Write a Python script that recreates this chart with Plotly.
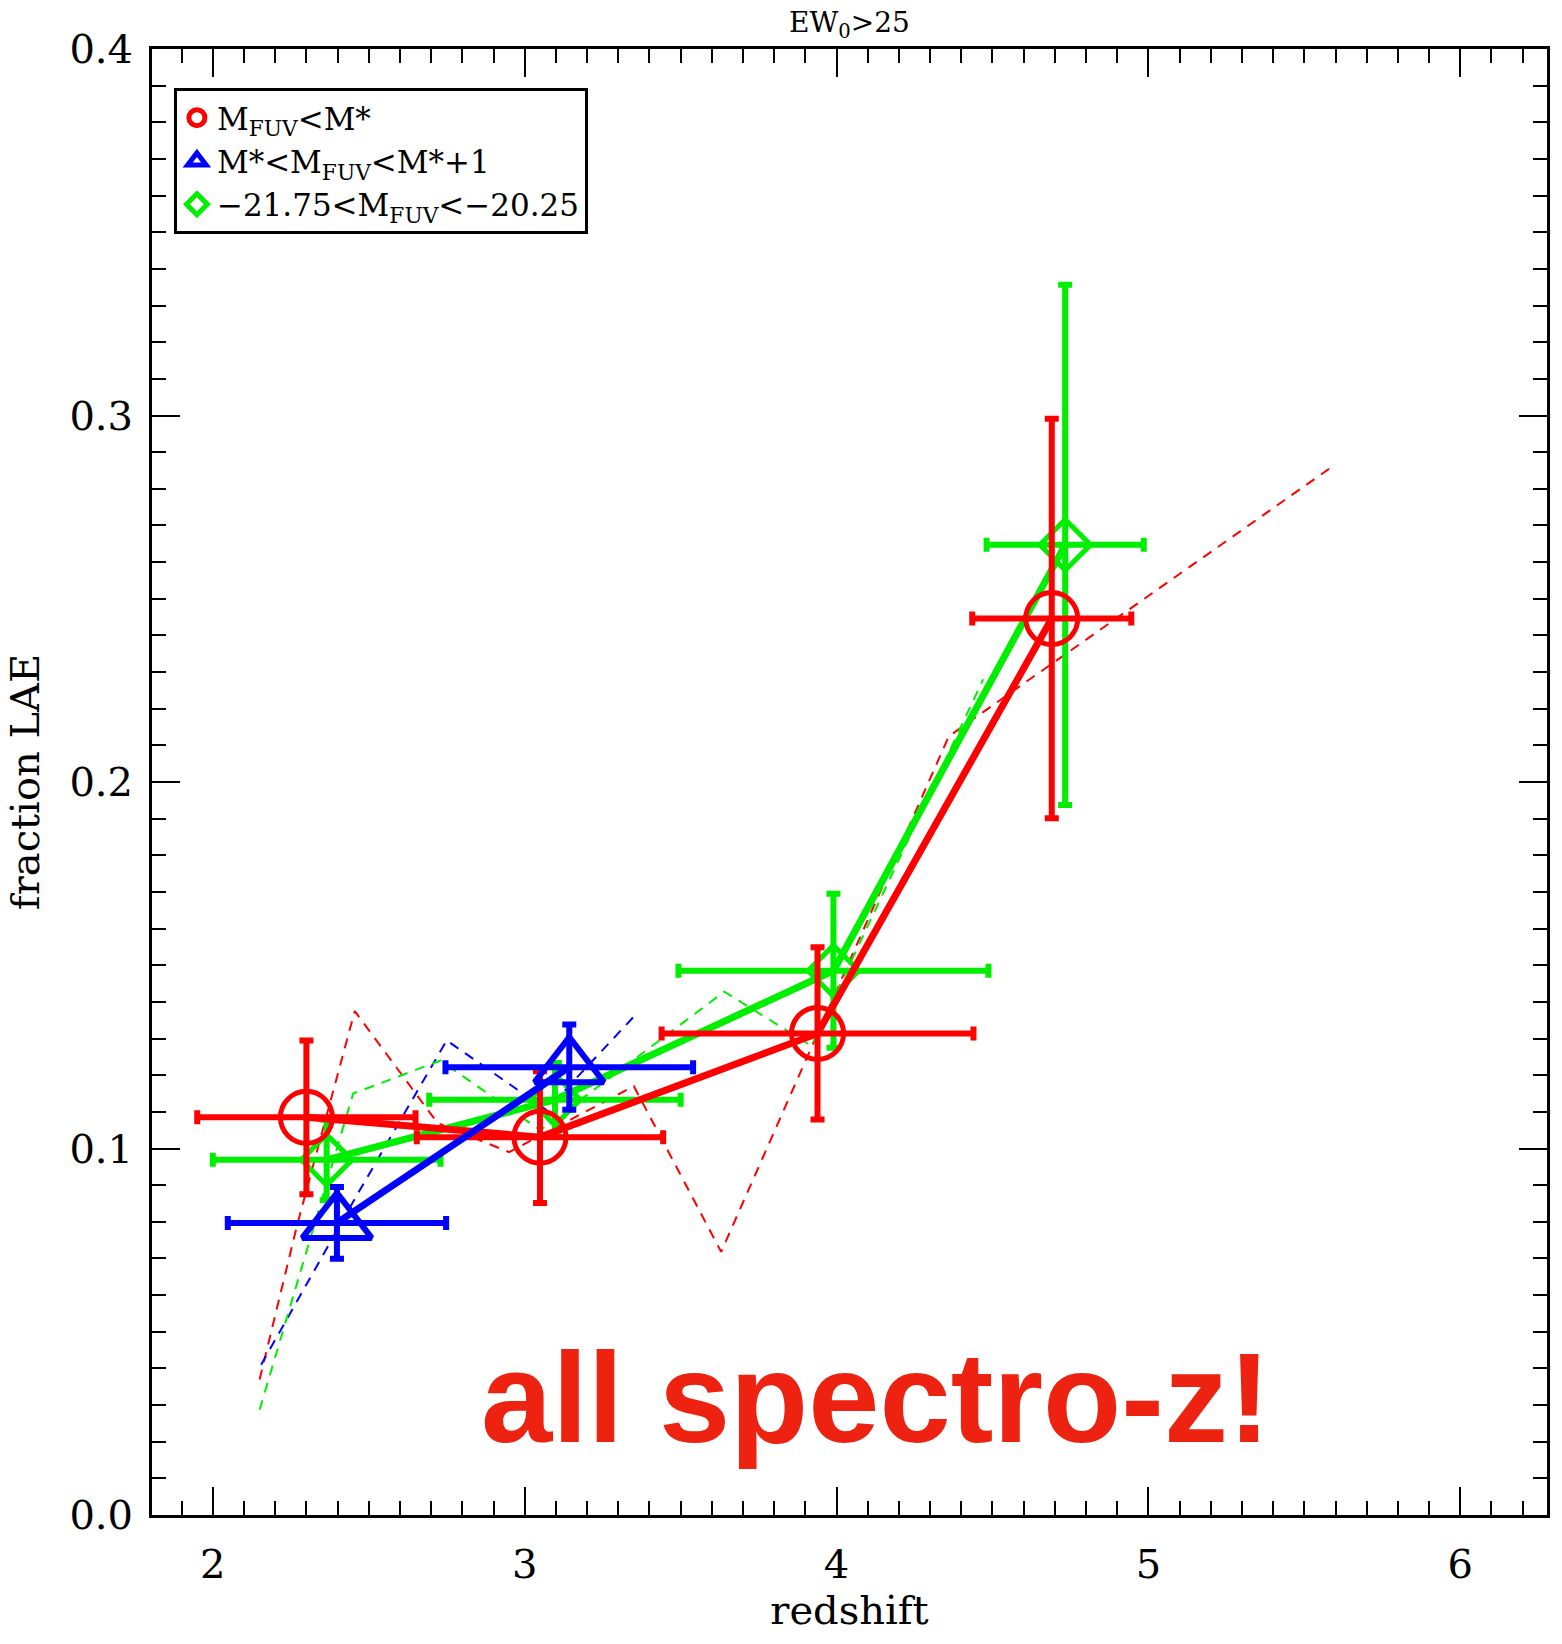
import plotly.graph_objects as go

# ---------------- data ----------------
# red: M_FUV < M*
red_z = [2.300, 3.049, 3.939, 4.690]
red_f = [0.1085, 0.1031, 0.1314, 0.2446]
red_zerr = [0.35, 0.395, 0.50, 0.255]
red_ferr = [0.021, 0.018, 0.0235, 0.0545]

# blue: M* < M_FUV < M*+1
blue_z = [2.398, 3.143]
blue_f = [0.0797, 0.1222]
blue_zerr = [0.35, 0.397]
blue_ferr = [0.0098, 0.0116]

# green: -21.75 < M_FUV < -20.25
green_z = [2.365, 3.097, 3.990, 4.733]
green_f = [0.0969, 0.1133, 0.1485, 0.2647]
green_zerr = [0.365, 0.403, 0.497, 0.252]
green_ferr = [0.011, 0.010, 0.021, 0.071]

# thin dashed curves
red_dash_z = [2.15, 2.27, 2.455, 2.72, 2.95, 3.35, 3.63, 4.36, 5.58]
red_dash_f = [0.037, 0.079, 0.1375, 0.107, 0.099, 0.117, 0.0718, 0.2125, 0.2855]
blue_dash_z = [2.155, 2.45, 2.75, 3.07, 3.35]
blue_dash_f = [0.041, 0.0855, 0.1295, 0.1105, 0.136]
green_dash_z = [2.15, 2.45, 2.73, 3.05, 3.64, 3.92, 4.47]
green_dash_f = [0.0287, 0.115, 0.124, 0.105, 0.1428, 0.128, 0.228]

x_ticks = [2, 3, 4, 5, 6]
y_ticks = [0.0, 0.1, 0.2, 0.3, 0.4]
y_ticktext = ["0.0", "0.1", "0.2", "0.3", "0.4"]

names = ["M<sub>FUV</sub>&lt;M*",
         "M*&lt;M<sub>FUV</sub>&lt;M*+1",
         "\u221221.75&lt;M<sub>FUV</sub>&lt;\u221220.25"]

RED, BLUE, GREEN = "#FF0000", "#0000FF", "#00EE00"
SERIF = "DejaVu Serif"

fig = go.Figure()

# dashed curves
for z, f, c in [(red_dash_z, red_dash_f, RED), (blue_dash_z, blue_dash_f, BLUE),
                (green_dash_z, green_dash_f, GREEN)]:
    fig.add_trace(go.Scatter(x=z, y=f, mode="lines",
                             line=dict(color=c, width=2, dash="10px,8px"),
                             showlegend=False, hoverinfo="skip"))


def series(z, f, zerr, ferr, color, symbol, size, mlw):
    return go.Scatter(
        x=z, y=f, mode="lines+markers",
        line=dict(color=color, width=7),
        marker=dict(symbol=symbol, size=size, color=color,
                    line=dict(width=mlw, color=color)),
        error_x=dict(type="data", array=zerr, color=color, thickness=6, width=7),
        error_y=dict(type="data", array=ferr, color=color, thickness=6, width=7),
        showlegend=False)


fig.add_trace(series(green_z, green_f, green_zerr, green_ferr, GREEN, "diamond-open", 39, 5))
fig.add_trace(series(red_z, red_f, red_zerr, red_ferr, RED, "circle-open", 52, 5))
fig.add_trace(series(blue_z, blue_f, blue_zerr, blue_ferr, BLUE, "triangle-up-open", 60, 6))

# legend entries
for name, c, sym in zip(names, [RED, BLUE, GREEN],
                        ["circle-open", "triangle-up-open", "diamond-open"]):
    fig.add_trace(go.Scatter(x=[None], y=[None], mode="markers", name=name,
                             marker=dict(symbol=sym, size=16, color=c,
                                         line=dict(width=5, color=c))))

axis_common = dict(
    ticks="inside", tickwidth=2, tickcolor="black",
    showline=True, linewidth=3, linecolor="black", mirror="allticks",
    showgrid=False, zeroline=False,
    tickfont=dict(family=SERIF, size=40, color="black"),
)

fig.update_layout(
    width=1562, height=1644,
    margin=dict(l=152, r=12, t=49, b=129),
    paper_bgcolor="white", plot_bgcolor="white",
    xaxis=dict(range=[1.805, 6.278], tickvals=x_ticks, ticklen=28,
               minor=dict(dtick=0.1, tick0=2, ticks="inside", ticklen=14,
                          tickwidth=2, tickcolor="black", showgrid=False),
               ticklabelstandoff=12,
               title=dict(text="redshift", font=dict(family=SERIF, size=40, color="black"),
                          standoff=6),
               **axis_common),
    yaxis=dict(range=[0, 0.4], tickvals=y_ticks, ticktext=y_ticktext, ticklen=28,
               minor=dict(dtick=0.01, tick0=0, ticks="inside", ticklen=14,
                          tickwidth=2, tickcolor="black", showgrid=False),
               ticklabelstandoff=8,
               title=dict(text="fraction LAE", font=dict(family=SERIF, size=40, color="black"),
                          standoff=18),
               **axis_common),
    legend=dict(x=0.0157, y=0.9734, xanchor="left", yanchor="top",
                bgcolor="white", bordercolor="black", borderwidth=3,
                font=dict(family=SERIF, size=31, color="black"),
                tracegroupgap=0, itemwidth=30),
    showlegend=True,
    annotations=[
        dict(text="EW<sub>0</sub>>25", xref="paper", yref="paper", x=0.5, y=1,
             xanchor="center", yanchor="bottom", yshift=4, showarrow=False,
             font=dict(family=SERIF, size=28, color="black")),
        dict(text="<b>all spectro-z!</b>", xref="x", yref="y", x=4.125, y=0.032,
             xanchor="center", yanchor="middle", showarrow=False,
             font=dict(family="Liberation Sans", size=128, color="#EE2211")),
    ],
)

fig.write_html("out.html")
